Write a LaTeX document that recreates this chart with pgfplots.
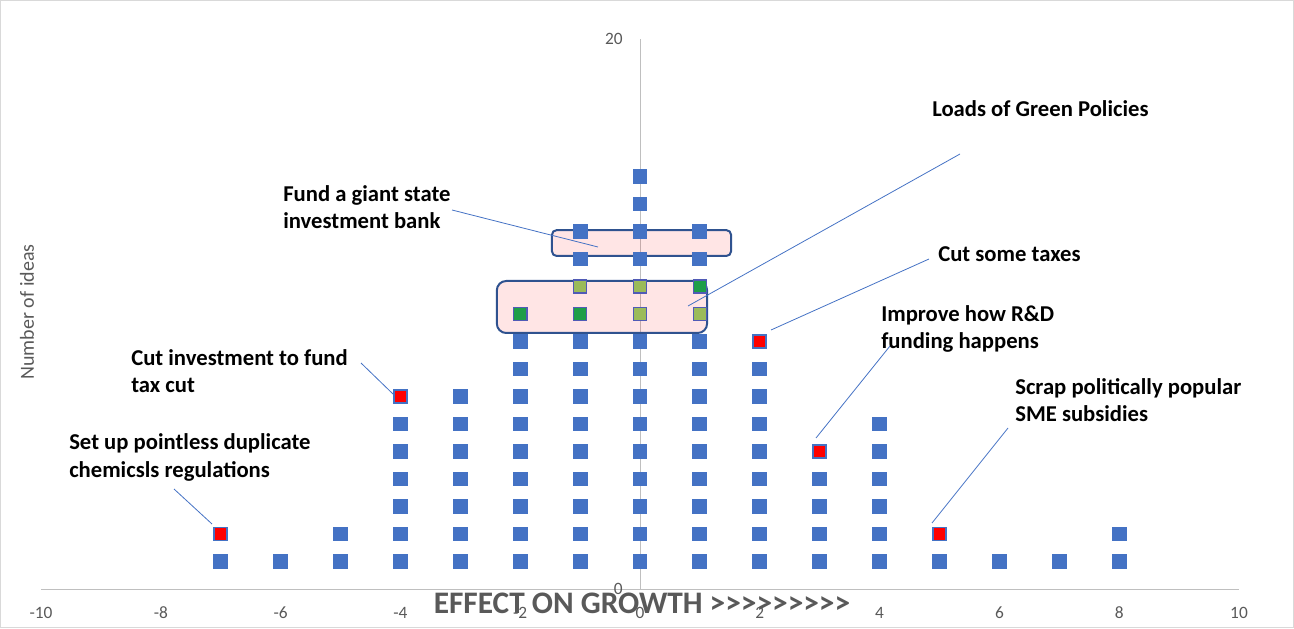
\documentclass[border=0pt]{standalone}
\usepackage{pgfplots}
\pgfplotsset{compat=1.18}
\usepackage{fontspec}
\setmainfont{Carlito}
\definecolor{cblue}{HTML}{4472C4}
\definecolor{cred}{HTML}{FF0000}
\definecolor{cgreen}{HTML}{1E9E48}
\definecolor{colive}{HTML}{9BBB59}
\definecolor{rectblue}{HTML}{2F528F}
\definecolor{axisgray}{HTML}{BFBFBF}
\definecolor{tickgray}{HTML}{595959}
\definecolor{bordergray}{HTML}{D9D9D9}
\newcommand{\gt}{\mbox{>}}
\begin{document}
\begin{tikzpicture}
\path[use as bounding box] (0,0) rectangle (970.5pt,471pt);
\begin{axis}[
  at={(30.75pt,29.25pt)}, anchor=south west,
  scale only axis, width=898.5pt, height=412.5pt,
  xmin=-10, xmax=10, ymin=0, ymax=20,
  axis lines=middle,
  axis line style={-, draw=axisgray, line width=0.75pt},
  xtick={-10,-8,...,10}, ytick={0,20},
  major tick length=0pt,
  hide obscured x ticks=false, hide obscured y ticks=false,
  /pgf/number format/assume math mode=true,
  tick label style={font=\fontsize{13}{15}\selectfont, text=tickgray, inner sep=0pt},
  xticklabel style={anchor=base, yshift=-21.75pt},
  yticklabel style={anchor=east, xshift=-12.75pt},
  clip=false,
]
% background fill of lower box
\fill[red, fill opacity=0.1, rounded corners=7pt] (axis cs:-2.39,9.31) rectangle (axis cs:1.12,11.2);
% blue points
\addplot[only marks, mark=square*, mark size=4.9pt, mark options={line width=1.4pt, draw=cblue, fill=cblue}] coordinates {
(-7,1)
(-6,1)
(-5,1)(-5,2)
(-4,1)(-4,2)(-4,3)(-4,4)(-4,5)(-4,6)
(-3,1)(-3,2)(-3,3)(-3,4)(-3,5)(-3,6)(-3,7)
(-2,1)(-2,2)(-2,3)(-2,4)(-2,5)(-2,6)(-2,7)(-2,8)(-2,9)
(-1,1)(-1,2)(-1,3)(-1,4)(-1,5)(-1,6)(-1,7)(-1,8)(-1,9)(-1,12)(-1,13)
(0,1)(0,2)(0,3)(0,4)(0,5)(0,6)(0,7)(0,8)(0,9)(0,12)(0,13)(0,14)(0,15)
(1,1)(1,2)(1,3)(1,4)(1,5)(1,6)(1,7)(1,8)(1,9)(1,12)(1,13)
(2,1)(2,2)(2,3)(2,4)(2,5)(2,6)(2,7)(2,8)
(3,1)(3,2)(3,3)(3,4)
(4,1)(4,2)(4,3)(4,4)(4,5)(4,6)
(5,1)
(6,1)
(7,1)
(8,1)(8,2)
};
% red points
\addplot[only marks, mark=square*, mark size=4.9pt, mark options={line width=1.4pt, draw=cblue, fill=cred}] coordinates {(-7,2)(-4,7)(2,9)(3,5)(5,2)};
% green points
\addplot[only marks, mark=square*, mark size=4.9pt, mark options={line width=1.2pt, draw=cblue!80!violet, fill=cgreen}] coordinates {(-2,10)(-1,10)(1,11)};
% olive points
\addplot[only marks, mark=square*, mark size=4.9pt, mark options={line width=1.2pt, draw=cblue!80!violet, fill=colive}] coordinates {(-1,11)(0,10)(0,11)(1,10)};
% boxes
\draw[rectblue, line width=1.5pt, rounded corners=7pt] (axis cs:-2.39,9.31) rectangle (axis cs:1.12,11.2);
\draw[rectblue, line width=1.5pt, rounded corners=3.5pt, fill=red, fill opacity=0.1] (axis cs:-1.47,12.11) rectangle (axis cs:1.52,13.05);
\end{axis}
\begin{scope}[x=0.75pt, y=-0.75pt, yshift=471pt]
\draw[bordergray, line width=0.75pt] (0.5,0.5) rectangle (1293.5,627.5);
% leader lines
\begin{scope}[cblue, line width=0.6pt]
\draw (960,154) -- (688,306);
\draw (929,259) -- (771,330);
\draw (890,346) -- (816,438);
\draw (1008,428) -- (932,523);
\draw (361,363) -- (393,394);
\draw (452,210) -- (598,247);
\draw (174,489) -- (212,524);
\end{scope}
% annotations (base = baseline of last line)
\begin{scope}[every node/.style={font=\fontsize{17}{20.6}\selectfont\bfseries, text=black, inner sep=0pt, align=left, anchor=base west}]
\node at (932,117) {Loads of Green Policies};
\node at (938,262) {Cut some taxes};
\node at (881,349) {Improve how R\&D\\funding happens};
\node at (1015,422) {Scrap politically popular\\SME subsidies};
\node at (131,393) {Cut investment to fund\\tax cut};
\node at (283,229) {Fund a giant state\\investment bank};
\node at (69,477) {Set up pointless duplicate\\chemicsls regulations};
\end{scope}
\node[font=\fontsize{23.5}{28}\selectfont\bfseries, text=tickgray, inner sep=0pt, anchor=base] at (642,613) {EFFECT ON GROWTH \gt\gt\gt\gt\gt\gt\gt\gt\gt};
\node[font=\fontsize{15}{18}\selectfont, text=tickgray, inner sep=0pt, rotate=90] at (27,312) {Number of ideas};
\end{scope}
\end{tikzpicture}
\end{document}
